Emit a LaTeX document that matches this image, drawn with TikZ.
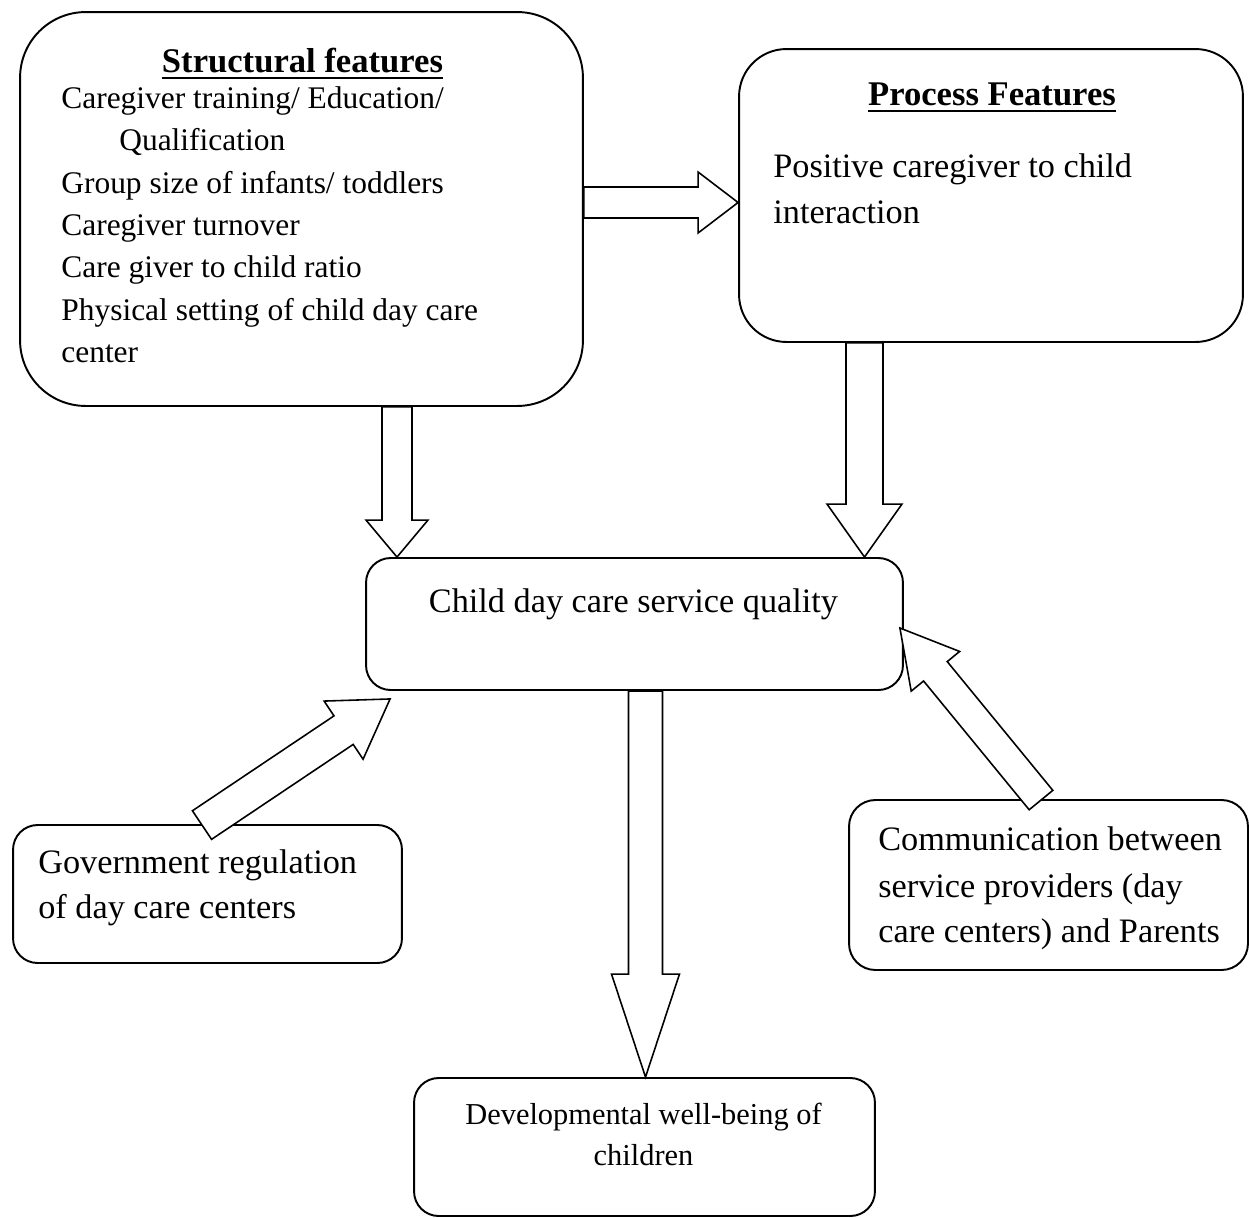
\documentclass[tikz,border=0pt]{standalone}
\usepackage{fontspec}
\setmainfont{Liberation Serif}
\usepackage{tikz}
\usetikzlibrary{calc}

\newcommand{\blockarrow}[5]{%
  \coordinate (ba) at ($(#2)!#5!(#1)$);
  \draw[blockarr] ($(#1)!#3!90:(#2)$) -- ($(ba)!#3!90:(#2)$)
    -- ($(ba)!#4!90:(#2)$) -- (#2) -- ($(ba)!#4!-90:(#2)$)
    -- ($(ba)!#3!-90:(#2)$) -- ($(#1)!#3!-90:(#2)$) -- cycle;
}

\begin{document}
\begin{tikzpicture}[x=0.02cm, y=-0.02cm,
    box/.style={draw, line width=1.1pt},
    blockarr/.style={draw, fill=white, line width=0.9pt, line join=miter},
    txt/.style={anchor=base west, inner sep=0pt,
      font=\fontsize{19.5}{23}\selectfont},
    ctxt/.style={txt, anchor=base},
    lst/.style={txt, font=\fontsize{17.9}{21}\selectfont},
    head/.style={anchor=base, inner sep=0pt,
      font=\fontsize{19.7}{23}\selectfont\bfseries},
    uline/.style={line width=1.5pt}]
  \useasboundingbox (0,0) rectangle (1249,1218);

  \node[box,
    rounded corners=37.4pt,
    minimum width=11.26cm,
    minimum height=7.88cm] (struct) at (301.5,209) {};
  \node[box,
    rounded corners=27pt,
    minimum width=10.08cm,
    minimum height=5.86cm] (proc) at (991,195.5) {};
  \node[box,
    rounded corners=14pt,
    minimum width=10.74cm,
    minimum height=2.64cm] (child) at (634.5,624) {};
  \node[box,
    rounded corners=14pt,
    minimum width=9.22cm,
    minimum height=2.76cm] (dev) at (644.5,1147) {};
  \node[box,
    rounded corners=14pt,
    minimum width=7.78cm,
    minimum height=2.76cm] (gov) at (207.5,894) {};
  \node[box,
    rounded corners=15pt,
    minimum width=7.98cm,
    minimum height=3.4cm] (comm) at (1048.5,885) {};

  \node[head] (shead) at (302.5,72) {Structural features};
  \draw[uline] ([yshift=-3.4pt]shead.base west) -- ([yshift=-3.4pt]shead.base east);
  \node[lst] (s1) at (61,108) {Caregiver training/ Education/};
  \node[lst] (s2) at (119,150) {Qualification};
  \node[lst] (s3) at (61,193) {Group size of infants/ toddlers};
  \node[lst] (s4) at (61,235) {Caregiver turnover};
  \node[lst] (s5) at (61,277) {Care giver to child ratio};
  \node[lst] (s6) at (61,320) {Physical setting of child day care};
  \node[lst] (s7) at (61,362) {center};

  \node[head] (phead) at (992,105) {Process Features};
  \draw[uline] ([yshift=-3.4pt]phead.base west) -- ([yshift=-3.4pt]phead.base east);
  \node[txt] (p1) at (773,177) {Positive caregiver to child};
  \node[txt] (p2) at (773,223) {interaction};

  \node[ctxt] (c1) at (633.5,612) {Child day care service quality};

  \node[ctxt, font=\fontsize{17.3}{21}\selectfont] (d1) at (643.5,1124) {Developmental well-being of};
  \node[ctxt, font=\fontsize{17.3}{21}\selectfont] (d2) at (643.5,1165) {children};

  \node[txt] (g1) at (38,873) {Government regulation};
  \node[txt] (g2) at (38,918) {of day care centers};

  \node[txt] (m1) at (878,850) {Communication between};
  \node[txt] (m2) at (878,897) {service providers (day};
  \node[txt] (m3) at (878,942) {care centers) and Parents};

  \coordinate (h1) at (struct.east |- 0,202.5);
  \coordinate (h2) at (proc.west |- h1);
  \blockarrow{h1}{h2}{0.31cm}{0.61cm}{0.8cm}
  \coordinate (v1) at (struct.south -| 397,0);
  \coordinate (v2) at (child.north -| v1);
  \blockarrow{v1}{v2}{0.3cm}{0.62cm}{0.74cm}
  \coordinate (v3) at (proc.south -| 864.5,0);
  \coordinate (v4) at (child.north -| v3);
  \blockarrow{v3}{v4}{0.37cm}{0.75cm}{1.06cm}
  \coordinate (v5) at (child.south -| 645.5,0);
  \coordinate (v6) at (dev.north -| v5);
  \blockarrow{v5}{v6}{0.34cm}{0.68cm}{2.06cm}
  \coordinate (g0) at ($(gov.north)+(-5.5,1)$);
  \coordinate (g9) at ($(child.south west)+(25,8)$);
  \blockarrow{g0}{g9}{0.344cm}{0.7cm}{1.12cm}
  \coordinate (m0) at ($(comm.north)+(-7.5,1)$);
  \coordinate (m9) at ($(child.east)+(-4,4)$);
  \blockarrow{m0}{m9}{0.306cm}{0.626cm}{1.12cm}
\end{tikzpicture}
\end{document}
